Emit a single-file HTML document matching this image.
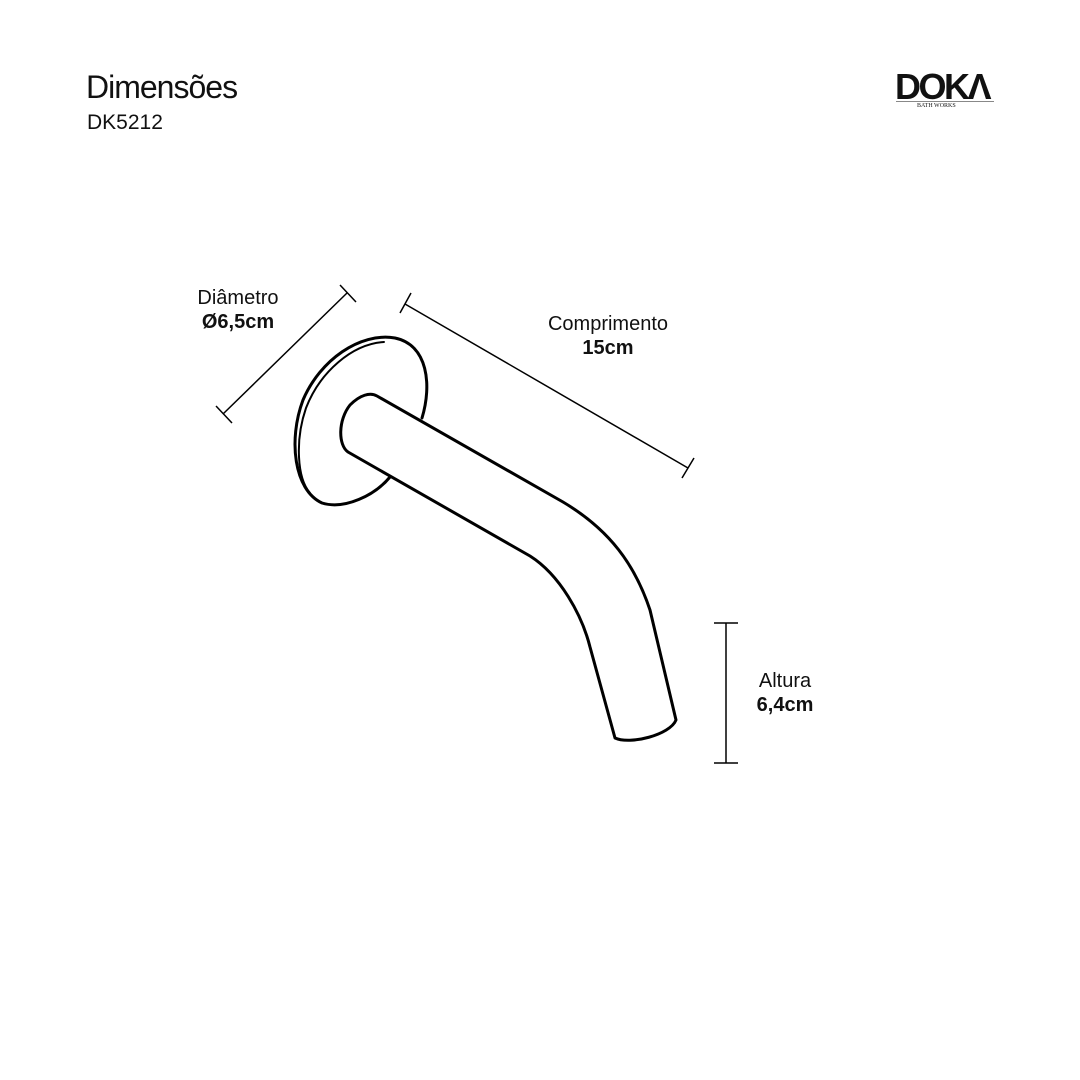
<!DOCTYPE html>
<html><head><style>
body{margin:0;background:#fff;}
.t{position:absolute;font-family:"Liberation Sans",sans-serif;color:#111;}
</style></head><body>
<div style="position:relative;width:1080px;height:1080px;overflow:hidden;">
<div class="t" style="left:86px;top:69px;font-size:32px;letter-spacing:-1px;">Dimensões</div>
<div class="t" style="left:87px;top:111px;font-size:21px;">DK5212</div>
<div class="t" style="left:895px;top:66px;font-size:36px;font-weight:bold;letter-spacing:-2.5px;">DOKΛ</div>
<div style="position:absolute;left:896px;top:101px;width:98px;height:1px;background:#888"></div>
<div class="t" style="left:917px;top:103px;font-size:6px;font-family:'Liberation Serif',serif;">BATH WORKS</div>
<div class="t" style="left:180px;top:286px;width:116px;text-align:center;font-size:20px;line-height:24px;">Diâmetro<br><b>Ø6,5cm</b></div>
<div class="t" style="left:528px;top:312px;width:160px;text-align:center;font-size:20px;line-height:24px;">Comprimento<br><b>15cm</b></div>
<div class="t" style="left:740px;top:669px;width:90px;text-align:center;font-size:20px;line-height:24px;">Altura<br><b>6,4cm</b></div>
<svg width="1080" height="1080" style="position:absolute;left:0;top:0" fill="none" stroke="#000">
<g stroke-width="1.5">
<line x1="223" y1="414" x2="347" y2="293"/>
<line x1="216" y1="406" x2="232" y2="423"/>
<line x1="340" y1="285" x2="356" y2="302"/>
<line x1="405" y1="304" x2="688" y2="468"/>
<line x1="400" y1="313" x2="411" y2="293"/>
<line x1="682" y1="478" x2="694" y2="458"/>
<line x1="726" y1="623" x2="726" y2="763"/>
<line x1="714" y1="623" x2="738" y2="623"/>
<line x1="714" y1="763" x2="738" y2="763"/>
</g>
<g stroke-width="3" stroke-linejoin="round" stroke-linecap="round">
<path d="M422,418 C432,385 428,345 395,338 C360,332 320,360 303,400 C288,440 294,490 322,503 C345,510 375,495 390,477"/>
<path d="M384,342 C352,344 320,372 306,408 C295,440 297,478 310,493" stroke-width="2"/>
<path d="M377,396 L563,502 C610,530 635,565 650,610 L676,720 C670,735 630,745 615,738 L590,647 C582,615 560,575 530,556 L348,452 C338,445 338,420 350,405 C360,395 370,392 377,396 Z"/>
</g>
</svg>
</div>
</body></html>
